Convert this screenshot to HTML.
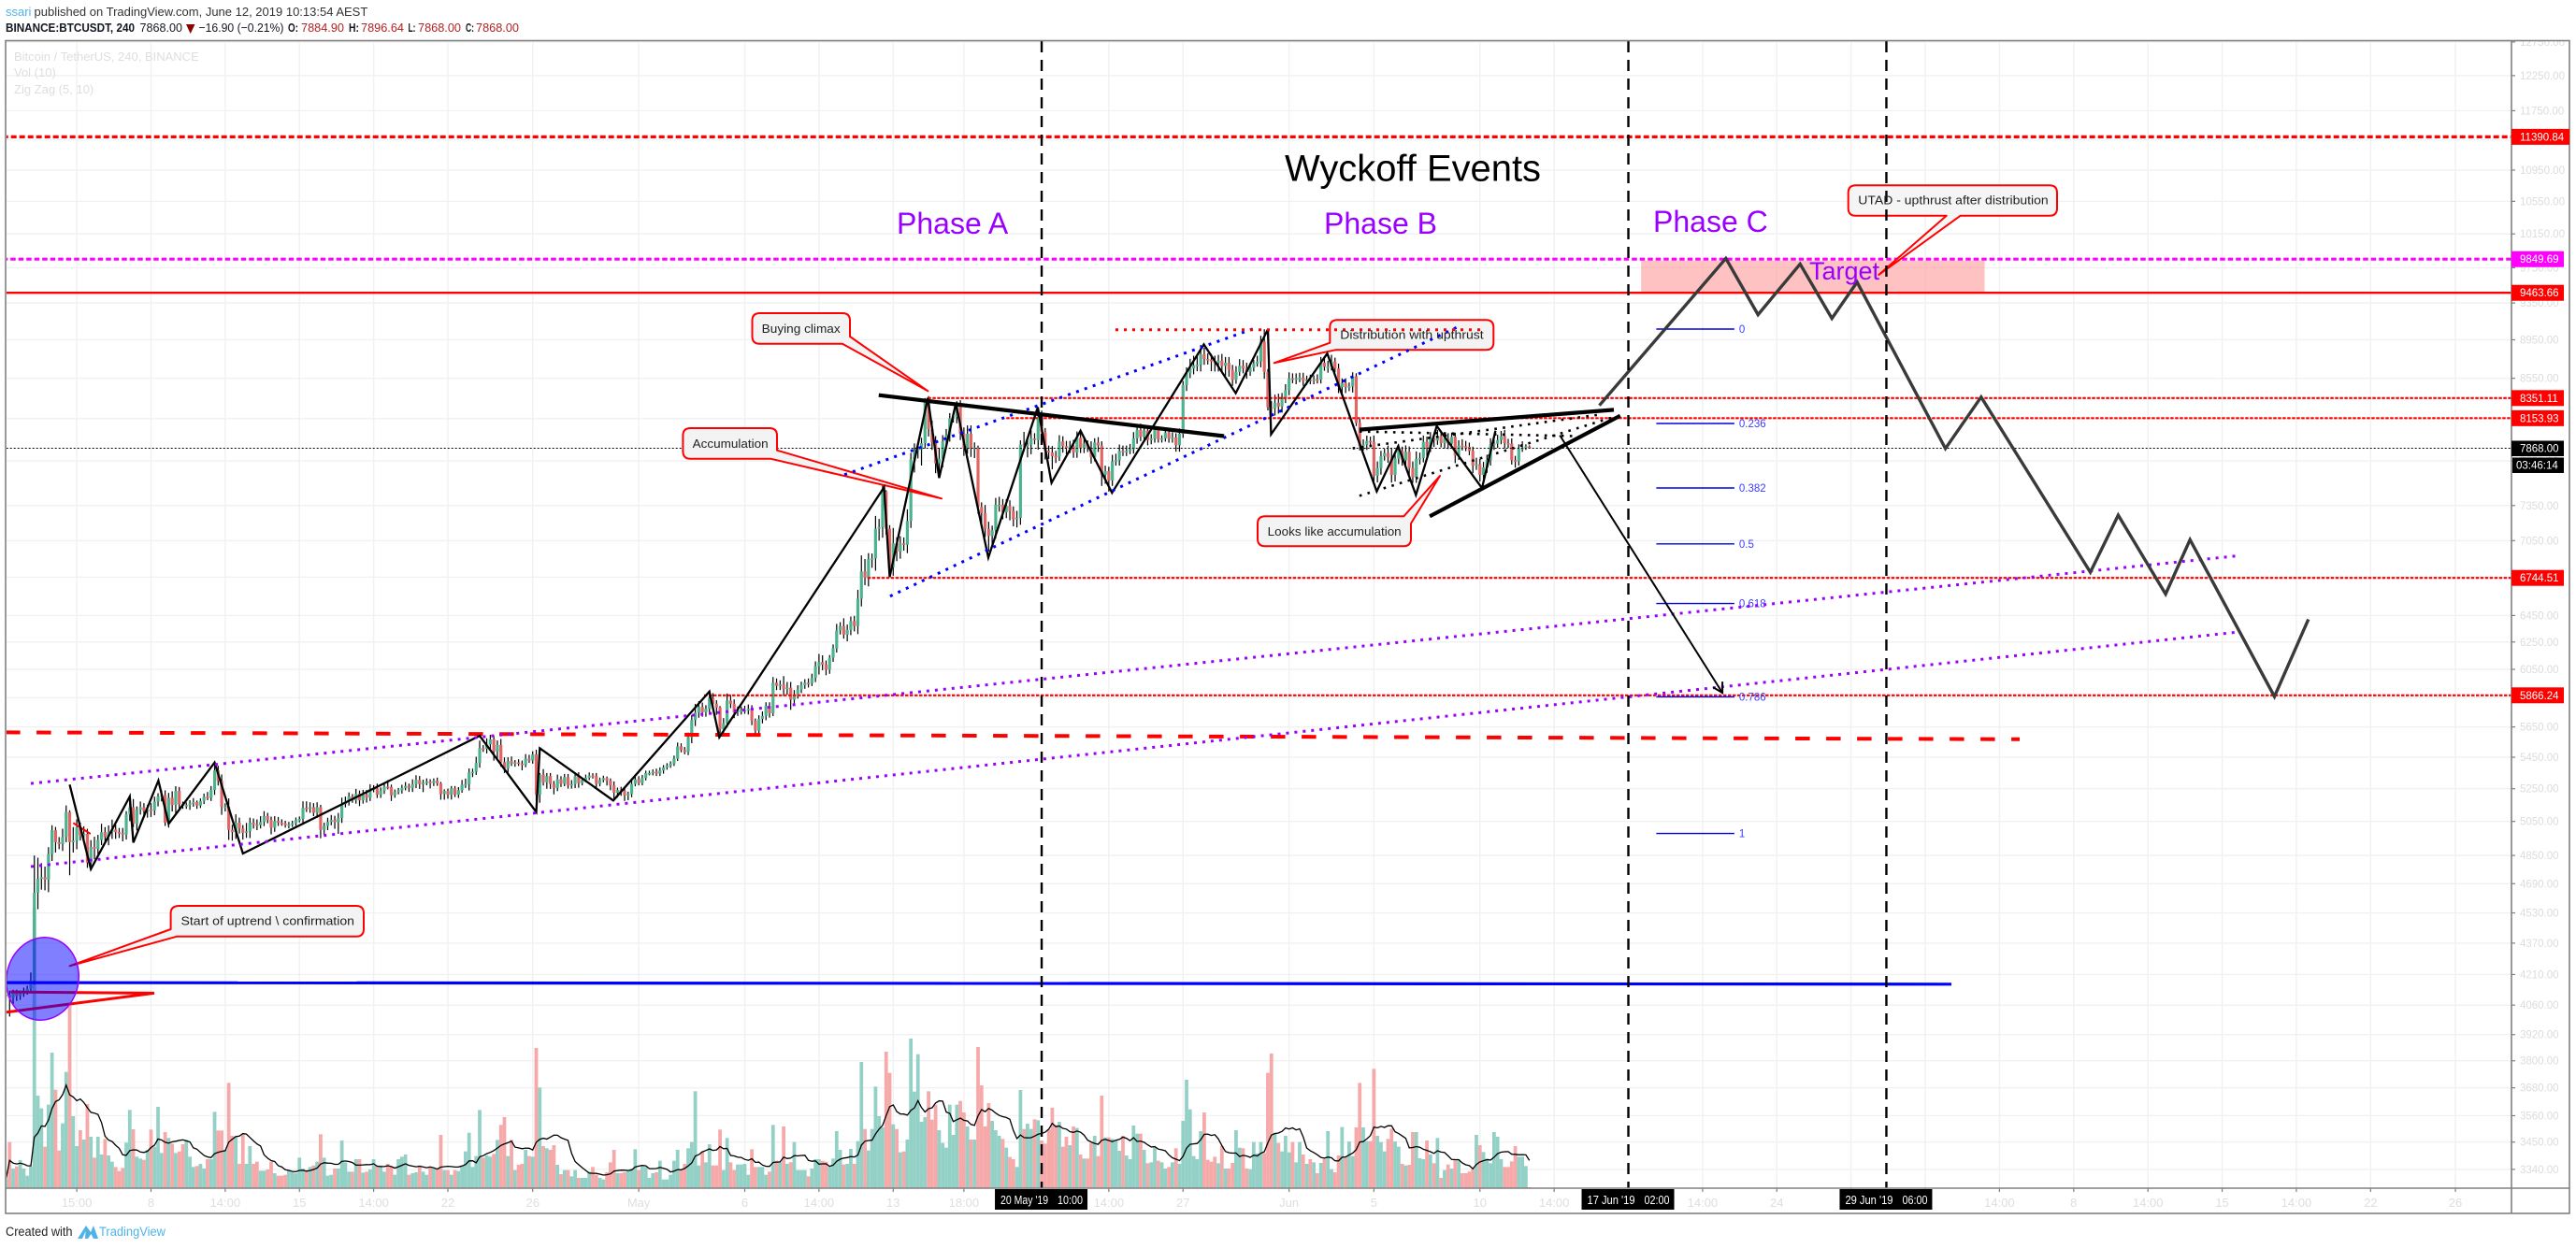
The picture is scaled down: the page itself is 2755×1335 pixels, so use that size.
<!DOCTYPE html>
<html lang="en">
<head>
<meta charset="utf-8">
<title>BTCUSDT Wyckoff Events</title>
<style>
html,body{margin:0;padding:0;background:#fff;}
svg{display:block;font-family:"Liberation Sans",sans-serif;}
</style>
</head>
<body>
<svg id="chart" xmlns="http://www.w3.org/2000/svg" width="2755" height="1335" viewBox="0 0 2755 1335">
  <defs>
    <clipPath id="paneClip"><rect x="7" y="44" width="2679" height="1227"/></clipPath>
    <clipPath id="axisClip"><rect x="2680" y="44" width="68" height="1254"/></clipPath>
  </defs>
  <rect x="0" y="0" width="2755" height="1335" fill="#ffffff"/>
  <g id="gridLayer"></g>
  <g font-size="13" fill="#131722">
    <text x="6" y="17" fill="#4fb3e8">ssari</text>
    <text x="36.5" y="17" fill="#333333">published on TradingView.com, June 12, 2019 10:13:54 AEST</text>
    <text x="6" y="34" font-weight="bold" textLength="138" lengthAdjust="spacingAndGlyphs">BINANCE:BTCUSDT, 240</text>
    <text x="149.5" y="34" textLength="45.5" lengthAdjust="spacingAndGlyphs">7868.00</text>
    <polygon points="199,26 208.5,26 203.7,36" fill="#8b0000"/>
    <text x="212.5" y="34" textLength="91" lengthAdjust="spacingAndGlyphs">−16.90 (−0.21%)</text>
    <text x="308" y="34" font-weight="bold" textLength="11" lengthAdjust="spacingAndGlyphs">O:</text>
    <text x="322" y="34" fill="#b22222" textLength="46" lengthAdjust="spacingAndGlyphs">7884.90</text>
    <text x="373" y="34" font-weight="bold" textLength="11" lengthAdjust="spacingAndGlyphs">H:</text>
    <text x="386" y="34" fill="#b22222" textLength="46" lengthAdjust="spacingAndGlyphs">7896.64</text>
    <text x="436.5" y="34" font-weight="bold" textLength="8" lengthAdjust="spacingAndGlyphs">L:</text>
    <text x="447" y="34" fill="#b22222" textLength="46" lengthAdjust="spacingAndGlyphs">7868.00</text>
    <text x="498" y="34" font-weight="bold" textLength="9" lengthAdjust="spacingAndGlyphs">C:</text>
    <text x="509" y="34" fill="#b22222" textLength="46" lengthAdjust="spacingAndGlyphs">7868.00</text>
  </g>
  <g font-size="13" fill="#dedede">
    <text x="15" y="65">Bitcoin / TetherUS, 240, BINANCE</text>
    <text x="15" y="82">Vol (10)</text>
    <text x="15" y="100">Zig Zag (5, 10)</text>
  </g>
  <g id="pane" clip-path="url(#paneClip)">
    <g id="volumeLayer"></g>
    <g id="candleLayer"></g>
    <g id="lowerDrawings"></g>
    <g fill="#f3f3f3" stroke="#ff0000" stroke-width="2" stroke-linejoin="round">
      <path d="M812.5,335 H901 Q909,335 909,343 V360 L992.4,418.3 L900.9,367.7 H812.5 Q804.5,367.7 804.5,359.7 V343 Q804.5,335 812.5,335 Z"/>
      <path d="M738.4,458 H823 Q831,458 831,466 V481.7 L1007,533.3 L824,490.7 H738.4 Q730.4,490.7 730.4,482.7 V466 Q730.4,458 738.4,458 Z"/>
      <path d="M1353,552.3 H1501.3 L1540,509 L1509,560 V576.3 Q1509,584.3 1501,584.3 H1353 Q1345,584.3 1345,576.3 V560.3 Q1345,552.3 1353,552.3 Z"/>
      <path d="M1430.3,342.3 H1589.3 Q1597.3,342.3 1597.3,350.3 V366.3 Q1597.3,374.3 1589.3,374.3 H1428.3 L1362.7,388.3 L1422.3,366.7 V350.3 Q1422.3,342.3 1430.3,342.3 Z"/>
      <path fill-opacity="0.85" d="M1984.7,198.3 H2192 Q2200,198.3 2200,206.3 V222.7 Q2200,230.7 2192,230.7 H2096.7 L2009.3,294 L2081.7,230.7 H1984.7 Q1976.7,230.7 1976.7,222.7 V206.3 Q1976.7,198.3 1984.7,198.3 Z"/>
      <path d="M191.7,969 H381 Q389,969 389,977 V993.7 Q389,1001.7 381,1001.7 H189.4 L74.6,1033.3 L182.6,994 V977 Q182.6,969 191.7,969 Z"/>
    </g>
    <g id="upperDrawings"></g>
    <ellipse cx="45.5" cy="1047" rx="38.5" ry="44.5" transform="rotate(12 45.5 1047)" fill="#0000ff" fill-opacity="0.5" stroke="#9900ff" stroke-width="1.5"/>
    <g font-size="13" fill="#222222">
      <text x="814.7" y="356" textLength="84" lengthAdjust="spacingAndGlyphs">Buying climax</text>
      <text x="740.6" y="479" textLength="81" lengthAdjust="spacingAndGlyphs">Accumulation</text>
      <text x="1355.7" y="573" textLength="143" lengthAdjust="spacingAndGlyphs">Looks like accumulation</text>
      <text x="1433.3" y="362.5" textLength="153.4" lengthAdjust="spacingAndGlyphs">Distribution with upthrust</text>
      <text x="1987.3" y="218.5" textLength="203.4" lengthAdjust="spacingAndGlyphs">UTAD - upthrust after distribution</text>
      <text x="193.5" y="989.5" textLength="185.5" lengthAdjust="spacingAndGlyphs">Start of uptrend \ confirmation</text>
    </g>
    <g fill="#9900ff" font-size="32">
      <text x="1374" y="193.5" font-size="40" fill="#000000" textLength="274" lengthAdjust="spacingAndGlyphs">Wyckoff Events</text>
      <text x="959" y="250">Phase A</text>
      <text x="1416" y="250">Phase B</text>
      <text x="1768" y="248">Phase C</text>
      <text x="1935" y="299" font-size="27">Target</text>
    </g>
  </g>
  <g id="axisLayer" clip-path="none"></g>
  <g fill="none" stroke="#808080" stroke-width="1.6">
    <rect x="6" y="43.5" width="2742" height="1254.5"/>
    <line x1="2686" y1="43.5" x2="2686" y2="1298"/>
    <line x1="6" y1="1271" x2="2748" y2="1271"/>
  </g>
  <g id="labelLayer"></g>
  <g font-size="13.5">
    <text x="6" y="1322" fill="#222222" textLength="71.5" lengthAdjust="spacingAndGlyphs">Created with</text>
    <path d="M83,1325 L92,1311 L97,1318 L100,1311 L105,1325 L100,1325 L97.5,1320 L94,1325 L91,1325 L91.5,1317 L88,1325 Z" fill="#4fb3e8"/>
    <text x="106" y="1322" fill="#4fb3e8" textLength="71" lengthAdjust="spacingAndGlyphs">TradingView</text>
  </g>
</svg>
<script>
const closes = [
4110,4095,4120,4105,4115,4125,4140,4180,4640,4717,
4726,4713,4858,4997,4927,4916,4957,5107,4927,4936,
5013,4967,4976,4809,4899,4888,4940,4986,4959,4986,
5001,4986,4981,4972,5092,5136,5036,5121,5136,5113,
5121,5117,5171,5202,5210,5043,5194,5150,5236,5155,
5146,5150,5159,5167,5146,5175,5200,5194,5242,5366,
5300,5140,5140,5000,4986,5043,5008,4982,4991,5043,
5032,5028,5047,5082,5059,5013,5052,5043,5039,5028,
5032,5039,5059,5065,5132,5127,5136,5102,5136,5000,
5023,5047,5059,5046,5071,5155,5171,5202,5178,5219,
5178,5213,5194,5248,5252,5213,5238,5263,5261,5209,
5230,5240,5255,5267,5255,5279,5305,5279,5287,5295,
5287,5300,5283,5217,5236,5213,5252,5213,5240,5275,
5279,5353,5357,5413,5509,5505,5534,5567,5488,5530,
5419,5379,5425,5409,5417,5409,5401,5441,5429,5469,
5213,5339,5290,5329,5279,5255,5309,5281,5323,5271,
5279,5329,5286,5305,5319,5333,5329,5280,5305,5317,
5300,5271,5225,5242,5236,5209,5217,5280,5309,5286,
5317,5349,5349,5357,5345,5365,5385,5397,5409,5441,
5521,5497,5484,5582,5696,5747,5786,5749,5773,5847,
5808,5782,5634,5675,5829,5808,5749,5764,5764,5764,
5773,5692,5625,5704,5725,5793,5743,5955,5933,5942,
5911,5920,5836,5873,5907,5937,5955,5951,5989,6073,
6102,6084,6048,6134,6202,6336,6369,6305,6341,6407,
6369,6580,6797,6747,6896,6903,7150,7164,7475,7150,
6832,7027,6960,7027,7016,7217,7765,7843,7858,7916,
8321,8049,7922,7728,7771,7931,7990,8153,8165,8290,
8005,7867,8005,7867,7873,7338,7285,7150,7090,7137,
7357,7357,7291,7346,7302,7231,7244,7902,7893,7902,
7960,7945,8168,8019,7843,7829,7794,7791,7931,7887,
7873,7887,7829,7966,7873,7911,7873,7786,7922,7893,
7623,7657,7573,7747,7757,7843,7835,7843,7858,7960,
8041,7975,8035,7945,7960,8041,7951,7960,8017,7960,
7969,7896,8005,8482,8602,8650,8682,8689,8796,8748,
8741,8722,8709,8731,8677,8709,8637,8534,8615,8677,
8650,8615,8659,8699,8722,8933,8615,8260,8250,8305,
8268,8342,8430,8550,8540,8550,8556,8524,8537,8530,
8540,8537,8709,8667,8670,8722,8650,8461,8499,8461,
8467,8571,8108,7887,7902,7937,7928,7615,7685,7794,
7823,7783,7623,7771,7843,7757,7835,7685,7601,7768,
7777,7928,7873,7960,7940,7981,7916,7960,7911,7975,
7800,7893,7887,7881,7843,7708,7720,7623,7691,7757,
7902,7911,7945,7981,7916,7911,7757,7748,7864,7873,
7885,7868];
const wickUps = [
15,20,15,15,15,20,15,40,210,120,
80,60,40,30,20,30,50,40,10,80,
50,30,45,30,40,60,30,50,30,40,
60,30,25,30,20,40,50,20,35,25,
30,40,30,20,30,30,30,40,30,25,
15,15,20,25,10,15,20,30,25,50,
30,40,20,50,30,50,30,20,50,30,
25,30,35,30,20,20,30,25,20,15,
15,15,15,15,40,40,30,25,30,15,
20,25,30,25,30,40,30,25,15,30,
20,30,30,30,20,30,20,20,40,15,
15,15,20,25,15,30,30,25,20,20,
15,15,20,10,10,15,15,15,20,30,
35,25,20,40,50,20,40,30,25,30,
40,30,25,30,15,20,20,30,25,20,
30,10,35,20,20,20,30,20,20,20,
25,25,25,15,20,20,15,20,15,15,
10,15,25,15,20,20,15,25,20,20,
20,15,15,15,20,20,15,15,15,20,
25,20,20,30,35,60,40,30,25,40,
35,25,10,35,50,40,30,25,25,30,
30,25,15,25,30,25,25,40,30,30,
60,40,40,30,30,25,25,30,30,35,
60,50,30,20,30,50,30,60,40,35,
40,70,130,100,50,40,110,70,100,10,
30,130,50,60,50,100,60,70,40,50,
30,50,80,60,100,60,60,50,40,30,
40,60,80,80,50,20,40,70,60,40,
60,70,50,60,50,40,60,40,120,60,
80,50,90,60,40,50,60,50,60,50,
50,50,60,60,50,50,30,60,40,50,
40,50,40,60,60,60,50,50,50,60,
40,60,50,50,40,30,30,30,30,30,
50,40,50,40,60,100,100,90,100,70,
60,60,60,60,70,60,60,50,60,70,
60,60,50,40,60,60,130,30,60,80,
90,60,60,60,50,50,50,50,40,50,
40,50,60,70,60,70,40,50,50,50,
40,40,30,40,50,50,40,60,60,50,
40,70,90,60,60,40,60,50,60,70,
50,60,50,60,40,60,40,50,50,40,
40,50,60,50,40,40,60,50,50,50,
60,80,50,50,60,40,50,40,40,60,
20,10];
const wickDowns = [
25,90,30,25,20,15,15,20,20,90,
60,60,70,40,60,30,40,30,190,60,
50,30,40,30,30,60,30,30,30,50,
40,40,30,40,30,40,20,40,30,40,
40,40,30,30,30,20,30,40,60,30,
20,20,30,20,20,15,20,15,20,30,
30,50,30,60,50,40,30,40,30,40,
25,30,20,25,20,40,25,20,15,15,
20,15,15,15,30,20,25,20,30,50,
30,25,20,40,70,30,20,25,15,20,
35,20,30,20,20,20,20,20,15,35,
15,15,20,15,25,25,25,30,50,15,
35,20,15,35,35,25,30,15,20,15,
20,40,30,20,30,20,30,40,60,50,
30,30,35,15,20,15,35,15,15,20,
40,50,20,40,30,40,20,20,15,20,
20,25,30,15,15,15,15,20,15,15,
30,30,40,30,30,35,30,20,15,15,
15,15,15,15,15,15,20,15,15,15,
15,15,15,20,40,40,35,30,30,40,
40,50,40,35,30,30,40,25,30,25,
30,30,20,20,30,30,30,20,30,30,
50,40,70,30,30,25,25,30,20,30,
60,40,40,30,30,30,30,30,50,40,
40,60,60,60,70,70,100,100,90,50,
40,70,80,60,50,70,60,120,70,150,
50,70,70,90,90,80,70,60,40,60,
60,70,50,80,90,60,130,70,130,80,
70,60,60,50,80,60,70,60,50,110,
90,40,90,60,80,60,120,60,40,60,
60,50,50,50,50,50,40,60,40,60,
100,80,100,50,40,50,40,40,30,40,
50,40,50,50,40,40,30,30,30,40,
40,60,60,40,60,50,60,60,70,60,
50,100,90,90,70,100,70,60,40,40,
50,70,40,40,30,60,70,30,50,70,
70,60,40,50,40,50,40,50,40,40,
40,40,40,40,60,40,40,60,60,60,
40,60,30,40,40,50,50,50,60,60,
40,50,70,60,50,50,60,60,50,50,
50,40,80,40,60,40,40,50,50,40,
70,40,40,40,40,70,40,60,50,50,
50,50,40,40,50,40,40,60,40,30,
20,0];
const volumes = [
30,148,63,70,90,63,40,70,900,297,
256,133,268,435,316,121,208,373,588,231,
135,186,156,270,165,98,165,108,158,105,
85,68,55,65,146,251,189,101,95,91,
123,188,133,261,113,180,161,143,113,118,
141,155,101,68,71,78,63,93,93,245,
185,185,123,338,168,163,78,173,78,135,
78,85,56,56,60,85,48,40,40,43,
58,51,48,98,63,58,68,73,85,173,
98,40,43,63,63,153,83,53,53,93,
93,50,53,60,93,73,73,53,78,68,
43,93,101,108,43,48,51,73,53,43,
68,63,63,171,58,58,43,58,55,73,
118,178,68,103,251,98,105,101,110,155,
203,228,103,155,58,75,78,123,103,101,
450,323,135,128,123,138,75,45,58,58,
38,58,33,33,33,53,68,43,33,28,
51,83,123,48,48,51,58,63,125,58,
75,68,33,48,51,88,28,28,43,88,
123,58,78,128,148,311,73,118,83,141,
73,73,188,58,161,83,58,76,76,78,
43,125,68,68,68,43,53,203,88,83,
198,78,83,148,58,58,58,38,63,93,
93,88,85,68,95,183,123,76,78,126,
78,151,405,190,121,190,326,231,195,438,
370,205,190,115,118,156,480,310,430,213,
228,311,220,268,186,145,130,268,171,268,
280,243,198,156,156,453,330,198,273,216,
186,168,158,130,100,93,68,315,190,207,
190,221,218,153,143,188,258,203,213,133,
165,138,198,193,108,95,95,145,168,103,
297,163,163,158,153,120,168,105,93,201,
175,175,123,80,83,130,88,83,63,68,
83,128,78,216,348,253,103,93,183,243,
91,85,101,80,136,63,63,81,186,130,
128,63,61,148,111,148,113,370,432,178,
145,118,168,115,148,83,148,108,78,93,
83,48,81,93,183,61,51,105,196,101,
150,103,195,338,195,151,151,383,168,148,
118,158,191,150,133,78,73,75,180,180,
96,93,153,108,80,161,33,58,76,63,
91,91,48,48,53,63,171,138,116,95,
80,180,165,93,68,68,86,135,101,101,
71,3];
const volumeAverageLength = 10;

const zigzagBars = [18,24,35,36,43.1,46,59,67,134,150,151,171.8,199,201.8,248.4,250,260.8,264,268.7,277.9,291.9,295.8,304,312.9,338.9,347.9,357,357.9,373.8,387.8,393.9,398.9,404.8,417.6,421.4];
const zigzagPrices = [5276,4772,5202,4925,5301,5036,5416,4861,5591,5107,5509,5177,5893,5581,7511,6752,8353,7595,8297,6909,8261,7551,8034,7462,8901,8400,9061,7999,8806,7475,7888,7443,8079,7503,8034];

const projectionBars = [450.8,486.6,495.7,507.6,516.6,523.7,548.7,558.8,589.7,597.6,611,617.9,641.8,651.4];
const projectionPrices = [8278,9859,9221,9793,9180,9585,7865,8362,6790,7266,6616,7058,5858,6421];

const levelPrices = [11390.84,9849.69,9463.66,8351.11,8153.93,6744.51,5866.24];
const levelStartBars = [-1,-1,-1,260.8,283,243.7,197.5];
const lastPrice = 7868.00;
const countdownLabel = "03:46:14";

const fibRatios = ["0","0.236","0.382","0.5","0.618","0.786","1"];
const fibPrices = [9065,8103,7505,7023,6542,5856,4978];
const fibStartBar = 466.9;
const fibEndBar = 489;

const priceTicks = [12750,12250,11750,11350,10950,10550,10150,9750,9350,8950,8550,8150,7750,7350,7050,6750,6450,6250,6050,5850,5650,5450,5250,5050,4850,4690,4530,4370,4210,4060,3920,3800,3680,3560,3450,3340];
const timeTickBars = [20,41,62,83,104,125,149,179,209,230,251,271,312,333,363,387,417,438,480,501,522,543,564,585,606,627,648,669,693];
const timeTickLabels = ["15:00","8","14:00","15","14:00","22","26","May","6","14:00","13","18:00","14:00","27","Jun","5","10","14:00","14:00","24","","","14:00","8","14:00","15","14:00","22","26"];
const eventBars = [293,459,532];
const eventDateLabels = ["20 May '19","17 Jun '19","29 Jun '19"];
const eventTimeLabels = ["10:00","02:00","06:00"];

const redDashBars = [-0.1,569.7];
const redDashPrices = [5614,5568];
const supportBars = [-0.1,550.4];
const supportPrices = [4170,4162];
const purpleUpperBars = [7,630.8];
const purpleUpperPrices = [5283,6922];
const purpleLowerBars = [7,630.8];
const purpleLowerPrices = [4786,6322];
const blueUpperBars = [237.2,353.6];
const blueUpperPrices = [7624,9078];
const blueLowerBars = [250.1,411.5];
const blueLowerPrices = [6599,9102];
const topDotBars = [313.9,417.1];
const topDotPrices = [9058,9058];
const wedgeFallBars = [246.9,344.6];
const wedgeFallPrices = [8380,7982];
const wedgeTopBars = [382.9,454.9];
const wedgeTopPrices = [8044,8235];
const wedgeBottomBars = [402.8,456.7];
const wedgeBottomPrices = [7257,8178];
const innerDotABars = [382.9,444];
const innerDotAPrices = [8026,7982];
const innerDotBBars = [381,450.7];
const innerDotBPrices = [7867,8188];
const innerDotCBars = [382.9,455.2];
const innerDotCPrices = [7435,8170];
const arrowBars = [439.6,485.6];
const arrowPrices = [7990,5884];
const smallRedBars = [19,23.9];
const smallRedPrices = [5041,4976];
const wedgeRedBars = [-0.1,41.9,1.3];
const wedgeRedPrices = [4025,4118,4124];
const targetBars = [462.6,559.8];
const targetPrices = [9833,9470];

const xS = function (bar) { return 6.5 + 3.78 * bar; };
const yS = function (price) { return 80.9 + (Math.log(12250) - Math.log(price)) * 900.3; };
const volY = function (volume) { return 1271 - volume / 3; };

const NS = "http://www.w3.org/2000/svg";
function make(parent, tag, geometry, text) {
  const el = document.createElementNS(NS, tag);
  for (const key in geometry) el.setAttribute(key, geometry[key]);
  if (text !== undefined) el.textContent = text;
  parent.appendChild(el);
  return el;
}
function linePoints(bars, prices) {
  return bars.map(function (b, i) { return xS(b).toFixed(1) + "," + yS(prices[i]).toFixed(1); }).join(" ");
}
function polyline(parent, bars, prices, look) {
  const geometry = { points: linePoints(bars, prices), fill: "none" };
  for (const key in look) geometry[key] = look[key];
  return make(parent, "polyline", geometry);
}

const grid = document.getElementById("gridLayer");
const axis = document.getElementById("axisLayer");
const tags = document.getElementById("labelLayer");
const volumeLayer = document.getElementById("volumeLayer");
const candleLayer = document.getElementById("candleLayer");
const lower = document.getElementById("lowerDrawings");
const upper = document.getElementById("upperDrawings");

const priceAxisGroup = make(axis, "g", { "clip-path": "url(#axisClip)" });



priceTicks.forEach(function (p) {
  const y = yS(p);
  const g = make(grid, "line", { x1: 7, x2: 2686, y1: y, y2: y, stroke: "#f1f1f1", "stroke-width": 1.4 });
  
  
});
priceTicks.forEach(function (p) {
  const y = yS(p);
  const t = make(priceAxisGroup, "line", { x1: 2686, x2: 2690, y1: y, y2: y, stroke: "#808080", "stroke-width": 1.2 });
  
  
  const l = make(priceAxisGroup, "text", { x: 2695, y: y + 4, "font-size": 11.5, fill: "#dcdcdc" }, p.toFixed(2));
  
  
});
timeTickBars.forEach(function (b, i) {
  const x = xS(b);
  const g = make(grid, "line", { x1: x, x2: x, y1: 44, y2: 1271, stroke: "#f1f1f1", "stroke-width": 1.4 });
  
  
  const t = make(axis, "line", { x1: x, x2: x, y1: 1271, y2: 1275, stroke: "#808080", "stroke-width": 1.2 });
  
  
  if (timeTickLabels[i]) {
    const l = make(axis, "text", { x: x, y: 1291, "font-size": 13, fill: "#dedede", "text-anchor": "middle" }, timeTickLabels[i]);
    
    
  }
});

closes.forEach(function (close, i) {
  const open = i === 0 ? 4105 : closes[i - 1];
  const rising = close >= open;
  const x = xS(i);
  const v = volumes[i] || 0;
  const bar = make(volumeLayer, "rect", { x: x - 1.89, y: volY(v), width: 3.78, height: 1271 - volY(v), fill: rising ? "#93d1c7" : "#f6a9a9" });
  
  
});
const smaPoints = volumes.map(function (_, i) {
  let sum = 0, n = 0;
  for (let j = Math.max(0, i - volumeAverageLength + 1); j <= i; j++) { sum += volumes[j]; n++; }
  return xS(i).toFixed(1) + "," + volY(sum / n).toFixed(1);
}).join(" ");
const sma = make(volumeLayer, "polyline", { points: smaPoints, fill: "none", stroke: "#000000", "stroke-width": 1.3 });



closes.forEach(function (close, i) {
  const open = i === 0 ? 4105 : closes[i - 1];
  const rising = close >= open;
  const x = xS(i);
  const top = Math.max(open, close);
  const bottom = Math.min(open, close);
  const g = make(candleLayer, "g", {});
  
  
  make(g, "line", { x1: x, x2: x, y1: yS(top + (wickUps[i] || 0)), y2: yS(Math.max(1, bottom - (wickDowns[i] || 0))), stroke: "#000000", "stroke-width": 1.2 });
  const y1 = yS(top);
  const h = Math.max(1.6, yS(bottom) - y1);
  make(g, "rect", { x: x - 1.6, y: y1, width: 3.2, height: h, fill: rising ? "#4db38e" : "#e06666" });
});

const target = make(lower, "rect", { x: xS(targetBars[0]), y: yS(targetPrices[0]), width: xS(targetBars[1]) - xS(targetBars[0]), height: yS(targetPrices[1]) - yS(targetPrices[0]), fill: "#ff9999", "fill-opacity": 0.6 });



const levelLook = [
  { stroke: "#ff0000", "stroke-width": 3.2, "stroke-dasharray": "6 3" },
  { stroke: "#ff00ff", "stroke-width": 3.2, "stroke-dasharray": "5.5 3" },
  { stroke: "#ff0000", "stroke-width": 2.4 },
  { stroke: "#ff0000", "stroke-width": 2.2, "stroke-dasharray": "3.5 1.5" },
  { stroke: "#ff0000", "stroke-width": 2.2, "stroke-dasharray": "3.5 1.5" },
  { stroke: "#ff0000", "stroke-width": 2.2, "stroke-dasharray": "3.5 1.5" },
  { stroke: "#ff0000", "stroke-width": 2.2, "stroke-dasharray": "3.5 1.5" }
];
const levelTagFill = ["#ff0000", "#ff00ff", "#ff0000", "#ff0000", "#ff0000", "#ff0000", "#ff0000"];
levelPrices.forEach(function (p, i) {
  const l = polyline(lower, [levelStartBars[i], 720], [p, p], levelLook[i]);
  
  
  const y = yS(p);
  const label = p.toFixed(2);
  const w = label.length > 7 ? 62 : 56;
  const box = make(tags, "rect", { x: 2686, y: y - 8.5, width: w, height: 17, fill: levelTagFill[i] });
  
  
  const txt = make(tags, "text", { x: 2695, y: y + 4, "font-size": 11.5, fill: "#ffffff" }, label);
  
  
});

const lastLine = polyline(lower, [-1, 720], [lastPrice, lastPrice], { stroke: "#000000", "stroke-width": 1, "stroke-dasharray": "2 2" });


const lastY = yS(lastPrice);
const lastBox = make(tags, "rect", { x: 2686, y: lastY - 8, width: 56, height: 16.5, fill: "#000000" });


const lastText = make(tags, "text", { x: 2695, y: lastY + 4, "font-size": 11.5, fill: "#ffffff" }, lastPrice.toFixed(2));


const countBox = make(tags, "rect", { x: 2687, y: lastY + 10, width: 55, height: 16.5, fill: "#000000" });


const countText = make(tags, "text", { x: 2691, y: lastY + 22, "font-size": 11.5, fill: "#ffffff" }, countdownLabel);



fibPrices.forEach(function (p, i) {
  const l = polyline(lower, [fibStartBar, fibEndBar], [p, p], { stroke: "#0000dd", "stroke-width": 1.4 });
  
  
  const t = make(lower, "text", { x: xS(fibEndBar) + 5, y: yS(p) + 4, "font-size": 11.5, fill: "#3c3cff" }, fibRatios[i]);
  
  
});

const dashedRed = polyline(lower, redDashBars, redDashPrices, { stroke: "#ff0000", "stroke-width": 4, "stroke-dasharray": "15.5 17.5" });


const support = polyline(lower, supportBars, supportPrices, { stroke: "#0000ff", "stroke-width": 3.2 });


const wedgeRed = polyline(lower, wedgeRedBars, wedgeRedPrices, { stroke: "#ff0000", "stroke-width": 3 });


const smallRed = polyline(lower, smallRedBars, smallRedPrices, { stroke: "#ff0000", "stroke-width": 2 });



const zigzag = polyline(upper, zigzagBars, zigzagPrices, { stroke: "#000000", "stroke-width": 2.3, "stroke-linejoin": "miter" });


const purpleUpper = polyline(upper, purpleUpperBars, purpleUpperPrices, { stroke: "#9900ff", "stroke-width": 3, "stroke-dasharray": "3 6" });


const purpleLower = polyline(upper, purpleLowerBars, purpleLowerPrices, { stroke: "#9900ff", "stroke-width": 3, "stroke-dasharray": "3 6" });


const blueUpper = polyline(upper, blueUpperBars, blueUpperPrices, { stroke: "#0000ff", "stroke-width": 3, "stroke-dasharray": "3 6.4" });


const blueLower = polyline(upper, blueLowerBars, blueLowerPrices, { stroke: "#0000ff", "stroke-width": 3, "stroke-dasharray": "3 6.4" });


const topDots = polyline(upper, topDotBars, topDotPrices, { stroke: "#ff0000", "stroke-width": 3, "stroke-dasharray": "3 6" });


const wedgeFall = polyline(upper, wedgeFallBars, wedgeFallPrices, { stroke: "#000000", "stroke-width": 4.2 });


const wedgeTop = polyline(upper, wedgeTopBars, wedgeTopPrices, { stroke: "#000000", "stroke-width": 4.2 });


const wedgeBottom = polyline(upper, wedgeBottomBars, wedgeBottomPrices, { stroke: "#000000", "stroke-width": 4.2 });


const dotA = polyline(upper, innerDotABars, innerDotAPrices, { stroke: "#000000", "stroke-width": 2.6, "stroke-dasharray": "2.6 6.4" });


const dotB = polyline(upper, innerDotBBars, innerDotBPrices, { stroke: "#000000", "stroke-width": 2.6, "stroke-dasharray": "2.6 6.4" });


const dotC = polyline(upper, innerDotCBars, innerDotCPrices, { stroke: "#000000", "stroke-width": 2.6, "stroke-dasharray": "2.6 6.4" });


const arrow = polyline(upper, arrowBars, arrowPrices, { stroke: "#000000", "stroke-width": 2 });


const ax = xS(arrowBars[1]);
const ay = yS(arrowPrices[1]);
const arrowHead = make(upper, "polyline", { points: (ax).toFixed(1) + "," + (ay - 12).toFixed(1) + " " + ax.toFixed(1) + "," + ay.toFixed(1) + " " + (ax - 10).toFixed(1) + "," + (ay - 6).toFixed(1), fill: "none", stroke: "#000000", "stroke-width": 2 });


const projection = polyline(upper, projectionBars, projectionPrices, { stroke: "#3a3a3a", "stroke-width": 3.4, "stroke-linejoin": "miter" });



eventBars.forEach(function (b, i) {
  const x = xS(b);
  const l = make(upper, "line", { x1: x, x2: x, y1: 44, y2: 1271, stroke: "#000000", "stroke-width": 2.4, "stroke-dasharray": "12 8" });
  
  
  const box = make(tags, "rect", { x: x - 50, y: 1272, width: 99, height: 22, fill: "#000000" });
  
  
  const d = make(tags, "text", { x: x - 44, y: 1288, "font-size": 13, fill: "#ffffff", textLength: 51, lengthAdjust: "spacingAndGlyphs" }, eventDateLabels[i]);
  
  
  const t = make(tags, "text", { x: x + 17, y: 1288, "font-size": 13, fill: "#ffffff", textLength: 27, lengthAdjust: "spacingAndGlyphs" }, eventTimeLabels[i]);
  
  
});
</script>
</body>
</html>
